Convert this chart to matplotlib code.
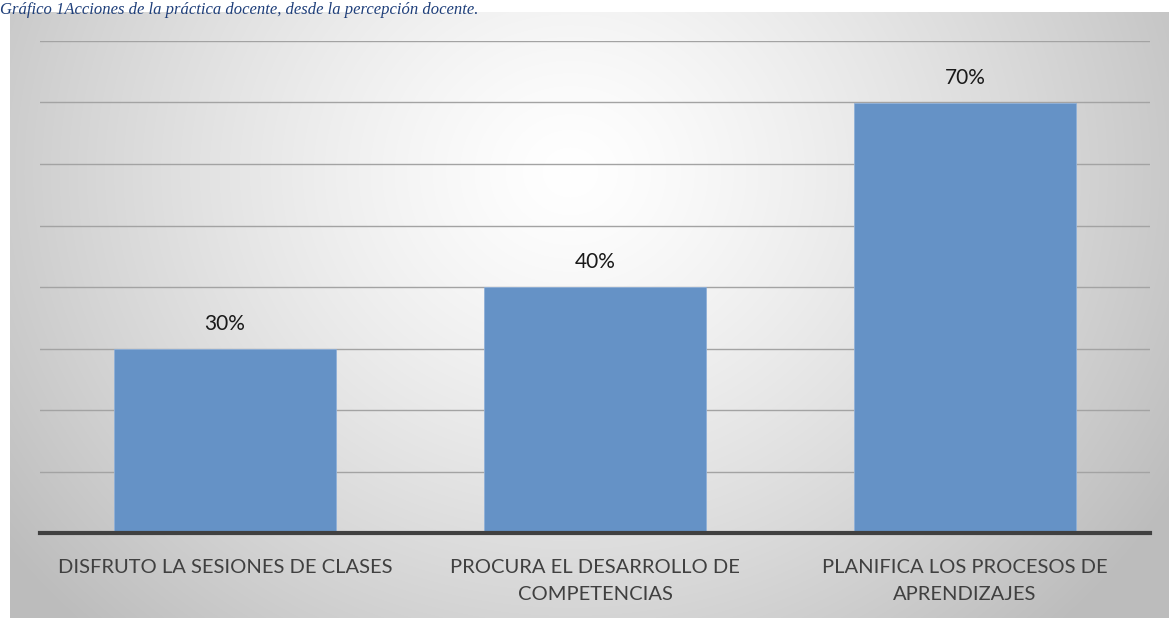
import numpy as np
import matplotlib
matplotlib.use('Agg')
import matplotlib.pyplot as plt

# Datos del gráfico
categorias = ["DISFRUTO LA SESIONES DE CLASES",
              "PROCURA EL DESARROLLO DE\nCOMPETENCIAS",
              "PLANIFICA LOS PROCESOS DE\nAPRENDIZAJES"]
valores = [0.30, 0.40, 0.70]
etiquetas = ["30%", "40%", "70%"]

W, H = 1169, 618
fig = plt.figure(figsize=(W / 100, H / 100), dpi=100)
fig.patch.set_facecolor("white")

# Fondo con degradado radial (area del gráfico)
bg = fig.add_axes([10 / W, 0, 1 - 10 / W, 1 - 12 / H])
yy, xx = np.mgrid[0:606, 0:1159]
d = np.sqrt(((xx - 560) / 1.0) ** 2 + ((yy - 160) / 0.9) ** 2)
t = np.clip(d / 700, 0, 1) ** 1.3
gris = 1.0 - t * (1.0 - 0.74)
img = np.dstack([gris, gris, gris])
bg.imshow(img, aspect="auto", extent=[0, 1, 0, 1], interpolation="bilinear")
bg.axis("off")

# Ejes del gráfico
ax = fig.add_axes([40 / W, (H - 533) / H, 1110 / W, (533 - 41) / H])
ax.patch.set_alpha(0)
x = np.arange(len(categorias))
ax.bar(x, valores, width=0.6, color="#6592c6", edgecolor="#8fb0d8", linewidth=0.6, zorder=3)
ax.set_xlim(-0.5, len(categorias) - 0.5)
ax.set_ylim(0, 0.8)
ax.set_yticks(np.arange(0.1, 0.81, 0.1))
ax.yaxis.grid(True, color="#a3a3a3", linewidth=1.0, zorder=0)
ax.tick_params(left=False, labelleft=False, bottom=False)
for s in ["top", "right", "left"]:
    ax.spines[s].set_visible(False)
ax.spines["bottom"].set_color("#404040")
ax.spines["bottom"].set_linewidth(3)
ax.spines["bottom"].set_zorder(4)

ax.set_xticks(x)
ax.set_xticklabels(categorias, fontsize=14.5, color="#404040", family="Lato",
                   linespacing=1.75)
ax.tick_params(axis="x", pad=15)

for xi, v, lab in zip(x, valores, etiquetas):
    ax.text(xi, v + 0.024, lab, ha="center", va="bottom", fontsize=15,
            color="#1a1a1a", family="Lato")

# Título encima del área del gráfico
fig.text(0.0, 1 - 14 / H, "Gráfico 1Acciones de la práctica docente, desde la percepción docente.",
         ha="left", va="baseline", fontsize=12, style="italic",
         family="Liberation Serif", color="#1f3f7a", zorder=5)

fig.savefig("out.png", dpi=100)
